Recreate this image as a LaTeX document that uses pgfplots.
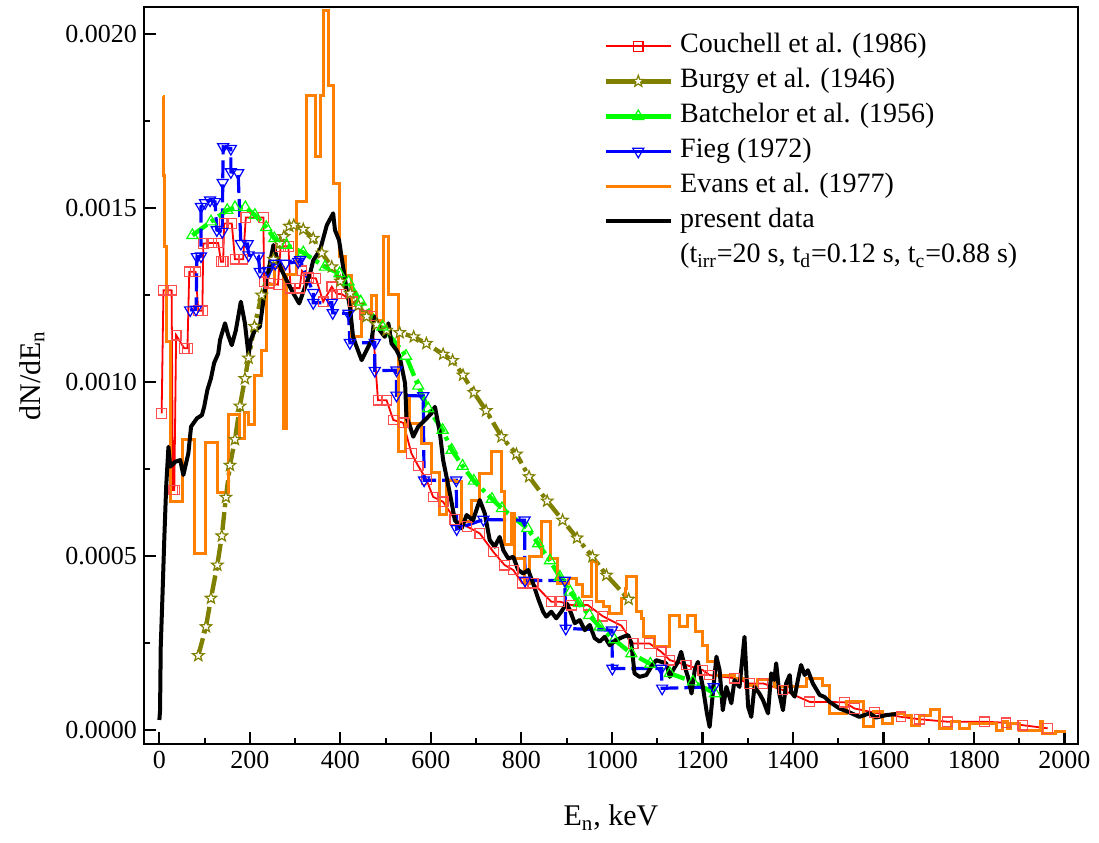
\documentclass[border=0pt]{standalone}
\usepackage{fontspec}
\setmainfont{Liberation Serif}
\usepackage{pgfplots}
\pgfplotsset{compat=1.18}
\usetikzlibrary{plotmarks}
\definecolor{cred}{RGB}{255,0,0}
\definecolor{colive}{RGB}{128,128,0}
\definecolor{cgreen}{RGB}{0,255,0}
\definecolor{cblue}{RGB}{0,0,255}
\definecolor{corange}{RGB}{255,128,0}
\pgfdeclareplotmark{ostar}{%
  \pgfpathmoveto{\pgfpointpolar{90}{\pgfplotmarksize}}%
  \pgfpathlineto{\pgfpointpolar{126}{0.42\pgfplotmarksize}}%
  \pgfpathlineto{\pgfpointpolar{162}{\pgfplotmarksize}}%
  \pgfpathlineto{\pgfpointpolar{198}{0.42\pgfplotmarksize}}%
  \pgfpathlineto{\pgfpointpolar{234}{\pgfplotmarksize}}%
  \pgfpathlineto{\pgfpointpolar{270}{0.42\pgfplotmarksize}}%
  \pgfpathlineto{\pgfpointpolar{306}{\pgfplotmarksize}}%
  \pgfpathlineto{\pgfpointpolar{342}{0.42\pgfplotmarksize}}%
  \pgfpathlineto{\pgfpointpolar{18}{\pgfplotmarksize}}%
  \pgfpathlineto{\pgfpointpolar{54}{0.42\pgfplotmarksize}}%
  \pgfpathclose
  \pgfusepathqfillstroke
}
\begin{document}
\begin{tikzpicture}
\begin{axis}[
  scale only axis, width=467pt, height=368.5pt,
  xmin=-34, xmax=2030, ymin=-0.00004, ymax=0.002078,
  xtick={0,200,...,2000}, minor x tick num=1,
  ytick={0,0.0005,0.001,0.0015,0.002}, minor y tick num=1,
  scaled y ticks=false, scaled x ticks=false,
  /pgf/number format/assume math mode=true,
  /pgf/number format/1000 sep={},
  yticklabel style={/pgf/number format/fixed, /pgf/number format/fixed zerofill, /pgf/number format/precision=4},
  tick align=inside, xtick pos=bottom, ytick pos=left,
  major tick length=6pt, minor tick length=3pt,
  every tick/.style={black, line width=1.1pt},
  axis line style={line width=1.3pt},
  tick label style={font=\fontsize{13}{13}\selectfont},
  label style={font=\fontsize{15}{15}\selectfont},
  xlabel={E\textsubscript{n}, keV}, ylabel={dN/dE\textsubscript{n}},
  xlabel style={at={(axis description cs:0.5,-0.1)}, anchor=center},
  ylabel style={at={(axis description cs:-0.12,0.5)}, anchor=center},
  legend style={draw=none, fill=none, at={(axis description cs:0.4914,0.9654)}, anchor=north west,
    inner sep=0pt, font=\fontsize{14}{14}\selectfont, row sep=4pt, column sep=3.5pt,
    nodes={inner sep=0pt, text height=10pt, text depth=3.5pt}},
  legend cell align=left,
  legend image code/.code={\draw[mark repeat=2,mark phase=2,#1] plot coordinates {(0cm,0cm)(0.57cm,0cm)(1.14cm,0cm)};},
]
% Couchell et al. (1986)
\addplot[forget plot, cred, line width=0.9pt, mark=square, mark size=2.4pt, mark options={solid, fill=white, draw=cred!70, line width=0.6pt}] coordinates {
(5,9.10e-4)(9,12.64e-4)(27,12.64e-4)(30,6.90e-4)(33,6.90e-4)(37,11.35e-4)(55,10.97e-4)(62,10.97e-4)(66,13.17e-4)(80,13.17e-4)(86,12.05e-4)(95,12.05e-4)(97,13.98e-4)(116,14.0e-4)(130,14.0e-4)(136,13.46e-4)(141,13.46e-4)(143,14.56e-4)(160,14.56e-4)(167,13.53e-4)(185,13.53e-4)(191,14.73e-4)(230,14.73e-4)(231,12.88e-4)(244,12.84e-4)(262,12.8e-4)(268,13.9e-4)(285,13.9e-4)(290,12.7e-4)(310,12.7e-4)(315,13.2e-4)(330,13.0e-4)(346,12.98e-4)(362,12.31e-4)(381,12.74e-4)(392,12.53e-4)(403,12.53e-4)(428,12.31e-4)(454,11.93e-4)(470,11.9e-4)(483,9.48e-4)(502,9.48e-4)(517,8.91e-4)(539,8.83e-4)(557,7.95e-4)(572,7.59e-4)(590,7.2e-4)(605,6.70e-4)(627,6.56e-4)(653,6.05e-4)(680,5.85e-4)(708,5.65e-4)(738,5.12e-4)(763,4.74e-4)(782,4.60e-4)(802,4.22e-4)(826,4.22e-4)(866,3.69e-4)(885,3.69e-4)(911,3.59e-4)(947,3.59e-4)(980,3.27e-4)(1021,3.0e-4)(1047,2.49e-4)(1083,2.49e-4)(1109,2.25e-4)(1128,2.01e-4)(1164,1.87e-4)(1201,1.72e-4)(1216,1.58e-4)(1271,1.49e-4)(1304,1.34e-4)(1334,1.34e-4)(1378,1.15e-4)(1437,0.81e-4)(1514,0.80e-4)(1536,0.62e-4)(1580,0.5e-4)(1639,0.38e-4)(1680,0.31e-4)(1742,0.24e-4)(1823,0.24e-4)(1871,0.21e-4)(1908,0.14e-4)(1963,0.05e-4)
};
% Burgy et al. (1946)
\addplot[forget plot, colive, line width=2.2pt, dash pattern=on 9pt off 2.5pt on 2pt off 2.5pt, mark=ostar, mark size=3pt, mark options={solid, fill=white, draw=colive, line width=0.6pt}] coordinates {
(86,2.14e-4)(103,2.97e-4)(114,3.79e-4)(128,4.74e-4)(138,5.58e-4)(147,6.69e-4)(156,7.61e-4)(167,8.35e-4)(178,9.31e-4)(189,10.10e-4)(197,10.69e-4)(210,11.6e-4)(226,12.5e-4)(252,13.53e-4)(266,13.99e-4)(275,14.18e-4)(287,14.48e-4)(297,14.51e-4)(318,14.39e-4)(340,14.13e-4)(359,13.71e-4)(381,13.31e-4)(400,12.9e-4)(422,12.55e-4)(440,12.2e-4)(458,11.88e-4)(480,11.65e-4)(502,11.49e-4)(531,11.42e-4)(562,11.30e-4)(590,11.11e-4)(627,10.80e-4)(648,10.62e-4)(671,10.20e-4)(695,9.70e-4)(722,9.18e-4)(756,8.43e-4)(789,7.93e-4)(817,7.28e-4)(857,6.58e-4)(891,6.03e-4)(923,5.52e-4)(957,4.98e-4)(988,4.45e-4)(1037,3.76e-4)
};
% Batchelor et al. (1956)
\addplot[forget plot, cgreen, line width=2.2pt, dash pattern=on 9pt off 2.5pt on 2pt off 2.5pt, mark=triangle, mark size=3.2pt, mark options={solid, fill=white, draw=cgreen, line width=0.6pt}] coordinates {
(73,14.22e-4)(114,14.61e-4)(150,14.94e-4)(167,15.02e-4)(190,15.02e-4)(211,14.80e-4)(236,14.45e-4)(254,14.13e-4)(281,13.94e-4)(318,13.72e-4)(366,13.31e-4)(398,13.12e-4)(418,12.88e-4)(445,12.31e-4)(493,11.59e-4)(545,10.75e-4)(572,9.89e-4)(594,9.24e-4)(626,8.62e-4)(646,8.05e-4)(670,7.59e-4)(695,7.16e-4)(735,6.64e-4)(757,6.37e-4)(813,5.80e-4)(837,5.36e-4)(863,4.87e-4)(885,4.4e-4)(908,3.97e-4)(927,3.64e-4)(950,3.3e-4)(973,2.97e-4)(1005,2.6e-4)(1043,2.20e-4)(1085,1.9e-4)(1128,1.63e-4)(1179,1.39e-4)(1228,1.05e-4)
};
% Fieg (1972)
\addplot[forget plot, cblue, line width=1.6pt, dash pattern=on 9pt off 3pt, mark=triangle, mark size=3.2pt, mark options={solid, rotate=180, fill=white, draw=cblue, line width=0.6pt}] coordinates {
(68,12.07e-4)(81,12.09e-4)(83,13.60e-4)(92,13.62e-4)(92,15.04e-4)(101,15.15e-4)(112,15.23e-4)(123,15.18e-4)(127,14.37e-4)(139,14.32e-4)(140,15.73e-4)(141,16.76e-4)(158,16.71e-4)(158,16.04e-4)(174,16.01e-4)(180,13.98e-4)(195,13.97e-4)(197,13.65e-4)(219,13.62e-4)(222,13.17e-4)(240,13.2e-4)(256,13.41e-4)(279,13.41e-4)(307,13.46e-4)(311,13.51e-4)(340,12.57e-4)(340,12.28e-4)(381,12.28e-4)(383,11.99e-4)(418,11.97e-4)(421,11.13e-4)(476,11.13e-4)(476,10.33e-4)(524,10.34e-4)(524,9.62e-4)(583,9.60e-4)(585,7.18e-4)(656,7.18e-4)(657,5.78e-4)(716,6.05e-4)(807,6.03e-4)(808,4.30e-4)(896,4.30e-4)(898,2.92e-4)(1000,2.87e-4)(1001,1.77e-4)(1109,1.77e-4)(1111,1.20e-4)(1225,1.24e-4)
};
% Evans et al. (1977)
\addplot[forget plot, corange, line width=1.5pt, const plot mark left] coordinates {
(7,18.2e-4)(9,15.95e-4)(11,13.9e-4)(16,11.16e-4)(24,6.56e-4)(50,8.35e-4)(77,5.08e-4)(103,8.27e-4)(128,6.82e-4)(152,9.08e-4)(177,8.38e-4)(189,9.12e-4)(198,8.79e-4)(211,10.20e-4)(225,10.90e-4)(237,12.8e-4)(255,13.3e-4)(274,8.68e-4)(282,13.1e-4)(302,15.18e-4)(325,18.25e-4)(344,16.47e-4)(356,18.25e-4)(362,20.69e-4)(374,18.53e-4)(384,15.71e-4)(397,13.62e-4)(412,13.07e-4)(425,11.3e-4)(447,11.97e-4)(469,12.5e-4)(480,11.78e-4)(495,14.17e-4)(506,12.53e-4)(528,8.0e-4)(543,9.53e-4)(553,8.81e-4)(579,8.24e-4)(601,7.4e-4)(620,6.2e-4)(635,7.18e-4)(653,7.14e-4)(668,6.0e-4)(690,6.6e-4)(708,7.38e-4)(735,8.0e-4)(756,6.85e-4)(763,5.32e-4)(778,6.23e-4)(785,4.93e-4)(807,4.21e-4)(819,5.0e-4)(845,5.99e-4)(864,4.93e-4)(879,4.21e-4)(903,4.36e-4)(921,4.17e-4)(936,3.83e-4)(955,4.84e-4)(967,3.69e-4)(982,3.54e-4)(995,3.35e-4)(1021,3.78e-4)(1030,4.07e-4)(1032,4.41e-4)(1054,3.40e-4)(1065,3.21e-4)(1069,2.68e-4)(1095,2.39e-4)(1128,3.30e-4)(1150,2.97e-4)(1168,3.30e-4)(1185,2.82e-4)(1201,2.44e-4)(1212,1.96e-4)(1230,1.58e-4)(1270,1.49e-4)(1297,1.29e-4)(1322,1.46e-4)(1360,1.25e-4)(1429,1.49e-4)(1466,1.29e-4)(1481,0.48e-4)(1518,0.81e-4)(1555,0.11e-4)(1577,0.53e-4)(1599,0.19e-4)(1621,0.48e-4)(1647,0.43e-4)(1661,0.14e-4)(1680,0.43e-4)(1705,0.59e-4)(1724,0.05e-4)(1750,0.24e-4)(1769,0.05e-4)(1791,0.19e-4)(1849,0.0)(1863,0.24e-4)(1874,0.04e-4)(1881,0.19e-4)(1900,0.0)(1948,0.24e-4)(1951,-0.1e-4)(1980,-0.05e-4)(2003,-0.05e-4)
};
% present data
\addplot[forget plot, black, line width=2pt, line join=round] coordinates {
(0,0.29e-4)(1.5,0.57e-4)(3,2.39e-4)(7,3.93e-4)(11,5.55e-4)(15,6.99e-4)(20,8.14e-4)(24,7.57e-4)(35,7.71e-4)(46,7.76e-4)(53,7.33e-4)(64,7.95e-4)(70,8.72e-4)(83,8.96e-4)(94,9.05e-4)(99,9.29e-4)(106,9.77e-4)(114,10.11e-4)(121,10.55e-4)(130,10.82e-4)(134,11.21e-4)(145,11.69e-4)(152,11.35e-4)(160,11.06e-4)(169,11.49e-4)(180,12.31e-4)(189,11.69e-4)(197,10.78e-4)(202,11.21e-4)(211,11.49e-4)(222,11.59e-4)(230,12.36e-4)(237,12.93e-4)(252,13.94e-4)(259,13.60e-4)(270,13.22e-4)(281,12.93e-4)(296,12.55e-4)(309,12.26e-4)(322,12.74e-4)(333,13.12e-4)(340,13.5e-4)(355,13.79e-4)(370,14.51e-4)(384,14.85e-4)(388,14.37e-4)(397,14.08e-4)(406,13.31e-4)(414,12.64e-4)(421,12.16e-4)(428,11.30e-4)(436,11.01e-4)(447,10.63e-4)(458,10.92e-4)(469,11.21e-4)(476,11.88e-4)(487,11.49e-4)(498,11.30e-4)(506,11.69e-4)(513,11.11e-4)(524,10.92e-4)(531,10.73e-4)(543,9.96e-4)(546,9.00e-4)(554,8.72e-4)(561,8.43e-4)(572,8.72e-4)(587,8.91e-4)(601,9.10e-4)(609,9.29e-4)(620,8.53e-4)(627,7.76e-4)(642,6.80e-4)(653,6.03e-4)(668,5.80e-4)(679,6.18e-4)(693,6.03e-4)(708,6.61e-4)(719,6.23e-4)(730,5.46e-4)(741,5.27e-4)(752,5.55e-4)(760,5.17e-4)(771,4.93e-4)(782,4.98e-4)(793,4.60e-4)(804,4.50e-4)(815,4.60e-4)(826,4.21e-4)(837,3.78e-4)(848,3.40e-4)(855,3.26e-4)(866,3.40e-4)(877,3.21e-4)(888,3.40e-4)(900,3.64e-4)(907,3.45e-4)(918,3.07e-4)(929,3.16e-4)(940,2.87e-4)(951,3.02e-4)(962,2.64e-4)(973,2.54e-4)(984,2.68e-4)(995,2.44e-4)(1010,2.59e-4)(1025,2.68e-4)(1036,2.73e-4)(1043,2.49e-4)(1050,1.63e-4)(1061,1.53e-4)(1076,1.58e-4)(1087,1.82e-4)(1098,2.01e-4)(1109,1.96e-4)(1120,1.92e-4)(1128,1.53e-4)(1135,1.72e-4)(1146,1.96e-4)(1153,2.25e-4)(1161,1.82e-4)(1168,1.53e-4)(1176,1.05e-4)(1183,1.72e-4)(1190,1.96e-4)(1201,1.24e-4)(1210,0.48e-4)(1216,0.09e-4)(1223,1.05e-4)(1231,2.11e-4)(1238,1.72e-4)(1245,0.57e-4)(1253,1.24e-4)(1264,0.77e-4)(1271,1.44e-4)(1282,1.24e-4)(1293,2.68e-4)(1301,0.67e-4)(1308,0.38e-4)(1315,1.24e-4)(1326,1.05e-4)(1334,0.86e-4)(1345,0.48e-4)(1352,1.63e-4)(1359,1.44e-4)(1363,1.92e-4)(1370,1.05e-4)(1378,0.57e-4)(1385,1.34e-4)(1393,1.58e-4)(1396,1.10e-4)(1404,0.96e-4)(1411,1.44e-4)(1418,1.87e-4)(1426,1.58e-4)(1433,1.72e-4)(1444,1.34e-4)(1459,1.01e-4)(1470,0.95e-4)(1481,0.81e-4)(1503,0.62e-4)(1521,0.53e-4)(1547,0.38e-4)(1569,0.48e-4)(1584,0.36e-4)(1606,0.43e-4)(1628,0.46e-4)
};
\addlegendimage{cred, line width=0.9pt, mark=square, mark size=2.4pt, mark options={solid, fill=white, draw=cred, line width=0.6pt}}
\addlegendentry{Couchell et al. (1986)}
\addlegendimage{colive, line width=2.5pt, mark=ostar, mark size=3pt, mark options={solid, fill=white, draw=colive, line width=0.6pt}}
\addlegendentry{Burgy et al. (1946)}
\addlegendimage{cgreen, line width=2.5pt, mark=triangle, mark size=3.2pt, mark options={solid, fill=white, draw=cgreen, line width=0.6pt}}
\addlegendentry{Batchelor et al. (1956)}
\addlegendimage{cblue, line width=1.6pt, mark=triangle, mark size=3.2pt, mark options={solid, rotate=180, fill=white, draw=cblue, line width=0.6pt}}
\addlegendentry{Fieg (1972)}
\addlegendimage{corange, line width=1.5pt}
\addlegendentry{Evans et al. (1977)}
\addlegendimage{black, line width=2pt}
\addlegendentry{present data}
\addlegendimage{empty legend}
\addlegendentry{(t\textsubscript{irr}=20 s, t\textsubscript{d}=0.12 s, t\textsubscript{c}=0.88 s)}
\end{axis}
\pgfresetboundingbox
\path ([shift={(-72pt,-49.5pt)}]current axis.south west) rectangle ([shift={(10.5pt,3.5pt)}]current axis.north east);
\end{tikzpicture}
\end{document}
